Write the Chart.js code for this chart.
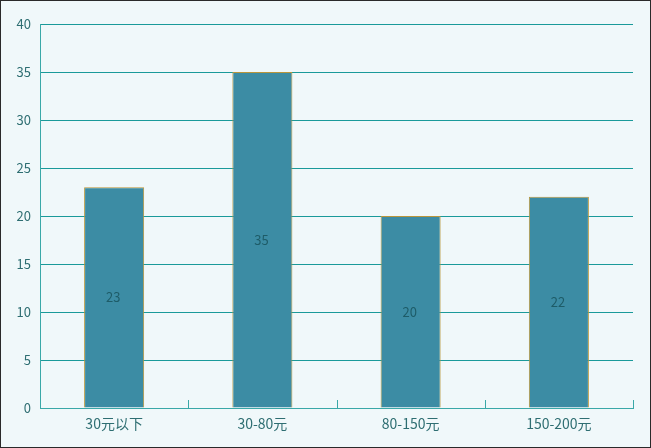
<!DOCTYPE html>
<html>
<head>
<meta charset="utf-8">
<script src="https://cdn.jsdelivr.net/npm/chart.js@4/dist/chart.umd.min.js"></script>
<style>
  html, body { margin: 0; padding: 0; background: #F0F8FA; }
  #box { width: 651px; height: 448px; box-sizing: border-box; border: 1px solid #2a2a2a; background: #F0F8FA; }
  #box canvas { display: block; }
</style>
</head>
<body>
<div id="box"><canvas id="barChart" width="649" height="446"></canvas></div>
<script>
var categories = ["30元以下", "30-80元", "80-150元", "150-200元"];
var counts = [23, 35, 20, 22];
var yTicks = [0, 5, 10, 15, 20, 25, 30, 35, 40];

var FONT = "'Noto Sans CJK SC', 'DejaVu Sans', sans-serif";

// value labels in the middle of each bar
var barLabels = {
    id: 'barLabels',
    afterDatasetsDraw: function (chart) {
        var ctx = chart.ctx;
        var meta = chart.getDatasetMeta(0);
        ctx.save();
        ctx.font = "13px " + FONT;
        ctx.fillStyle = "#1E5C68";
        ctx.textAlign = "center";
        ctx.textBaseline = "middle";
        meta.data.forEach(function (bar, i) {
            var mid = (bar.y + bar.base) / 2;
            ctx.fillText(String(counts[i]), bar.x - 1, mid);
        });
        ctx.restore();
    }
};

// short upward tick marks between categories on the x axis
var xTickMarks = {
    id: 'xTickMarks',
    afterDraw: function (chart) {
        var ctx = chart.ctx;
        var x = chart.scales.x;
        var bottom = chart.chartArea.bottom;
        ctx.save();
        ctx.strokeStyle = "#3AA8A8";
        ctx.lineWidth = 1;
        for (var i = 1; i <= categories.length; i++) {
            var px = Math.round(x.getPixelForValue(i - 0.5)) + 0.5;
            ctx.beginPath();
            ctx.moveTo(px, bottom);
            ctx.lineTo(px, bottom - 8);
            ctx.stroke();
        }
        ctx.restore();
    }
};

var ctx = document.getElementById("barChart").getContext("2d");
new Chart(ctx, {
    type: 'bar',
    data: {
        labels: categories,
        datasets: [{
            data: counts,
            backgroundColor: "#3C8CA4",
            borderColor: "#B8963C",
            borderWidth: 1,
            barPercentage: 0.405,
            categoryPercentage: 1
        }]
    },
    options: {
        responsive: false,
        animation: false,
        layout: { padding: { left: 0, top: 23, right: 17, bottom: 0 } },
        plugins: { legend: { display: false }, tooltip: { enabled: false } },
        scales: {
            x: {
                grid: { display: false, drawTicks: false },
                border: { color: "#3AA8A8", width: 1 },
                ticks: { color: "#2E6E72", font: { size: 14, family: FONT }, padding: 7 },
                afterFit: function (s) { s.height = 39; }
            },
            y: {
                min: 0,
                max: 40,
                afterBuildTicks: function (s) {
                    s.ticks = yTicks.map(function (v) { return { value: v }; });
                },
                grid: { color: "#1A9A9A", lineWidth: 1, drawTicks: false },
                border: { color: "#3AA8A8", width: 1 },
                ticks: { color: "#2E6E72", font: { size: 13, family: FONT }, padding: 9 },
                afterFit: function (s) { s.width = 39; }
            }
        }
    },
    plugins: [barLabels, xTickMarks]
});
</script>
</body>
</html>
